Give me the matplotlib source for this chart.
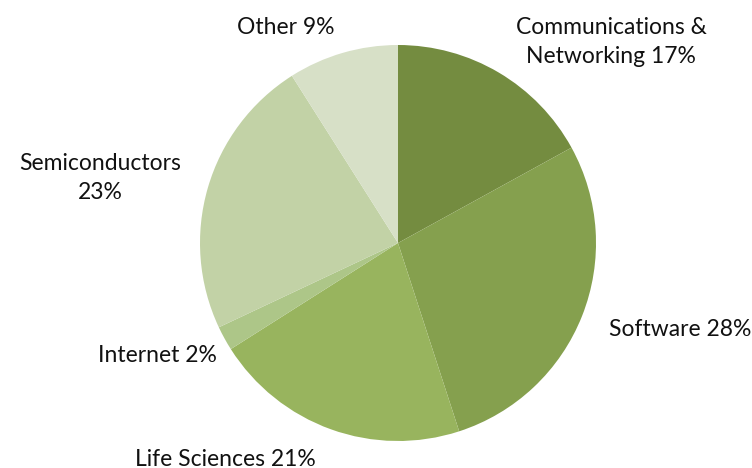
import matplotlib.pyplot as plt

labels = ["Communications &\nNetworking 17%", "Software 28%", "Life Sciences 21%",
          "Internet 2%", "Semiconductors\n23%", "Other 9%"]
shares = [17, 28, 21, 2, 23, 9]
colors = ["#748C40", "#85A04E", "#98B45E", "#ADC688", "#C2D2A6", "#D7E0C7"]

# label centres in pixels (from top-left)
label_px = [(611, 42), (680, 329), (225, 459), (157, 355), (100, 178), (286, 27)]

W, H = 752, 468
fig = plt.figure(figsize=(W / 100, H / 100), dpi=100)
cx, cy, r = 398, 243, 198
ax = fig.add_axes([(cx - r) / W, (H - cy - r) / H, 2 * r / W, 2 * r / H])
ax.pie(shares, colors=colors, startangle=90, counterclock=False,
       wedgeprops=dict(linewidth=0))
ax.set_xlim(-1, 1)
ax.set_ylim(-1, 1)
ax.set_aspect("equal")
ax.axis("off")

for lab, (x, y) in zip(labels, label_px):
    fig.text(x / W, 1 - y / H, lab, ha="center", va="center", fontsize=16.5,
             family="Lato", color="#111111", linespacing=1.45)

fig.savefig("out.png", dpi=100)
